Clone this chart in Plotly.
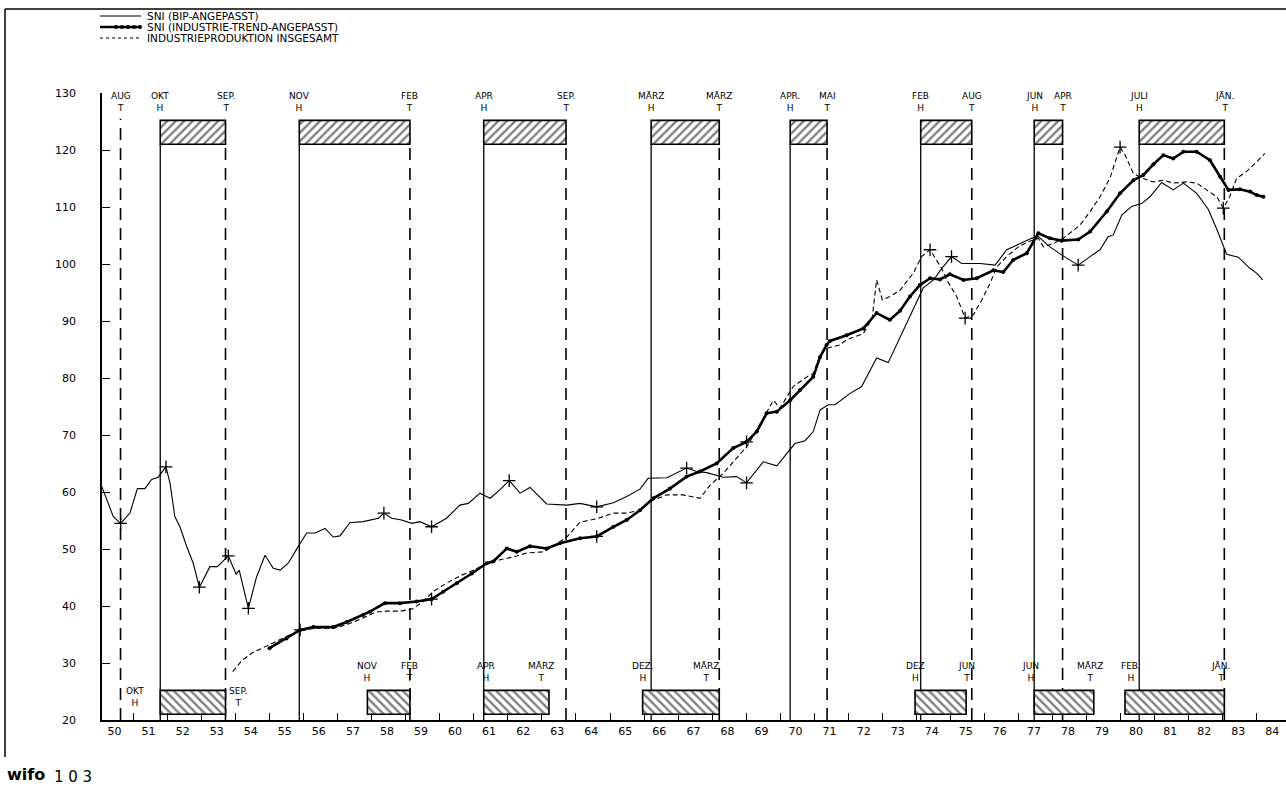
import plotly.graph_objects as go

# ---------------------------------------------------------------- series data
# SNI (BIP-angepasst): thin solid line
bip_x = [1950.08, 1950.22, 1950.41, 1950.63, 1950.9, 1951.12, 1951.34, 1951.54, 1951.73, 1951.96,
         1952.08, 1952.22, 1952.37, 1952.57, 1952.76, 1952.94, 1953.25, 1953.47, 1953.79, 1954.02,
         1954.11, 1954.38, 1954.62, 1954.87, 1955.11, 1955.31, 1955.55, 1955.78, 1956.09, 1956.34,
         1956.63, 1956.87, 1957.07, 1957.36, 1957.75, 1958.2, 1958.36, 1958.59, 1958.88, 1959.18,
         1959.42, 1959.76, 1960.2, 1960.59, 1960.84, 1961.18, 1961.48, 1961.77, 1962.04, 1962.36,
         1962.65, 1963.14, 1963.73, 1964.12, 1964.61, 1965.1, 1965.49, 1965.88, 1966.12, 1966.67,
         1967.25, 1967.55, 1967.84, 1968.33, 1968.72, 1969.01, 1969.5, 1969.9, 1970.43, 1970.73,
         1970.97, 1971.17, 1971.41, 1971.61, 1972.05, 1972.39, 1972.83, 1973.17, 1973.52, 1973.91,
         1974.2, 1974.5, 1974.74, 1975.03, 1975.33, 1975.87, 1976.31, 1976.65, 1977.04, 1977.38,
         1977.58, 1977.92, 1978.26, 1978.75, 1979.1, 1979.39, 1979.63, 1979.78, 1980.03, 1980.32,
         1980.61, 1980.86, 1981.2, 1981.54, 1981.84, 1982.23, 1982.57, 1982.82, 1983.11, 1983.45,
         1983.8, 1983.99, 1984.17]
bip_y = [60.9, 58.6, 55.7, 54.5, 56.3, 60.6, 60.6, 62.2, 62.6, 64.4,
         61.5, 55.7, 53.9, 50.4, 47.5, 43.3, 46.9, 46.9, 48.8, 45.6,
         46.3, 39.6, 45.1, 48.9, 46.6, 46.3, 47.5, 49.8, 52.8, 52.8,
         53.6, 52.1, 52.3, 54.6, 54.8, 55.4, 56.3, 55.4, 55.1, 54.5,
         54.8, 53.9, 55.4, 57.7, 58.0, 59.8, 58.9, 60.4, 62.0, 59.8,
         60.8, 57.9, 57.7, 58.0, 57.4, 58.1, 59.2, 60.5, 62.4, 62.5,
         64.2, 63.6, 63.4, 62.6, 62.7, 61.6, 65.3, 64.6, 68.5, 69.0,
         70.6, 74.4, 75.3, 75.3, 77.3, 78.5, 83.5, 82.7, 87.2, 92.3,
         95.8, 97.2, 99.2, 101.3, 100.1, 100.1, 99.8, 102.5, 103.6, 104.5,
         104.8, 103.0, 101.6, 99.8, 101.3, 102.5, 104.8, 105.1, 108.6, 110.1,
         110.6, 111.8, 114.3, 113.0, 114.2, 112.4, 109.6, 106.1, 101.7, 101.2,
         99.2, 98.4, 97.2]
bip_turns = [1950.63, 1951.96, 1952.94, 1953.79, 1954.38, 1958.36, 1959.76, 1962.04,
             1964.61, 1967.25, 1969.01, 1975.03, 1978.75]

# SNI (Industrie-Trend-angepasst): heavy dotted line
trend_x = [1955.0, 1955.5, 1955.9, 1956.29, 1956.87, 1957.27, 1957.75, 1957.95, 1958.39, 1958.83,
           1959.32, 1959.76, 1960.1, 1960.5, 1960.94, 1961.38, 1961.57, 1961.97, 1962.26, 1962.65,
           1963.14, 1963.53, 1964.12, 1964.61, 1965.1, 1965.49, 1965.88, 1966.27, 1966.76, 1967.25,
           1967.64, 1968.13, 1968.62, 1969.01, 1969.31, 1969.6, 1969.9, 1970.29, 1970.58, 1970.97,
           1971.17, 1971.36, 1971.46, 1971.95, 1972.44, 1972.83, 1973.22, 1973.52, 1973.81, 1974.1,
           1974.4, 1974.69, 1974.98, 1975.38, 1975.77, 1976.26, 1976.55, 1976.84, 1977.24, 1977.58,
           1977.92, 1978.26, 1978.75, 1979.1, 1979.59, 1979.98, 1980.37, 1980.66, 1980.96, 1981.25,
           1981.54, 1981.84, 1982.23, 1982.62, 1982.92, 1983.16, 1983.5, 1983.8, 1983.99, 1984.19]
trend_y = [32.6, 34.3, 35.8, 36.3, 36.3, 37.2, 38.4, 39.0, 40.5, 40.5,
           40.8, 41.2, 42.5, 44.0, 45.7, 47.5, 47.8, 50.1, 49.5, 50.5,
           50.1, 51.0, 51.9, 52.2, 53.9, 55.1, 56.8, 58.9, 60.6, 62.7,
           63.6, 65.0, 67.7, 68.8, 70.6, 73.8, 74.1, 76.1, 77.9, 80.2,
           83.7, 85.8, 86.5, 87.5, 88.7, 91.4, 90.2, 91.8, 94.3, 96.3,
           97.5, 97.3, 98.2, 97.2, 97.5, 98.9, 98.6, 100.7, 101.9, 105.4,
           104.5, 104.1, 104.3, 105.7, 109.2, 112.4, 114.7, 115.6, 117.5, 119.1,
           118.5, 119.7, 119.7, 118.2, 115.3, 113.0, 113.1, 112.7, 112.1, 111.8]
trend_turns = [1955.9, 1959.76, 1964.61, 1969.01]

# Industrieproduktion insgesamt: short-dashed line
ind_x = [1953.92, 1954.2, 1954.5, 1954.8, 1955.1, 1955.5, 1955.9, 1956.3, 1956.9, 1957.3,
         1957.75, 1958.1, 1958.4, 1958.85, 1959.2, 1959.5, 1959.8, 1960.2, 1960.6, 1961.0,
         1961.38, 1961.77, 1962.16, 1962.55, 1963.04, 1963.4, 1963.73, 1964.12, 1964.61, 1965.1,
         1965.49, 1965.88, 1966.27, 1966.67, 1967.15, 1967.64, 1967.94, 1968.33, 1968.72, 1969.01,
         1969.31, 1969.8, 1969.99, 1970.38, 1970.78, 1970.97, 1971.17, 1971.36, 1971.75, 1971.95,
         1972.44, 1972.7, 1972.83, 1973.0, 1973.22, 1973.52, 1973.71, 1973.91, 1974.15, 1974.4,
         1974.74, 1974.89, 1975.18, 1975.43, 1975.67, 1975.92, 1976.16, 1976.36, 1976.65, 1976.99,
         1977.28, 1977.58, 1977.73, 1978.02, 1978.31, 1978.8, 1979.1, 1979.39, 1979.68, 1979.83,
         1979.98, 1980.13, 1980.37, 1980.66, 1980.96, 1981.25, 1981.54, 1981.93, 1982.23, 1982.52,
         1982.82, 1983.01, 1983.2, 1983.4, 1983.69, 1983.99, 1984.23]
ind_y = [28.5, 30.5, 31.8, 32.6, 33.5, 34.7, 35.6, 36.1, 36.1, 36.8,
         37.9, 38.9, 39.1, 39.1, 39.5, 40.7, 42.5, 44.0, 45.3, 46.3,
         47.5, 48.1, 48.6, 49.3, 49.5, 50.7, 52.1, 54.7, 55.3, 56.3,
         56.3, 56.8, 58.6, 59.5, 59.5, 58.9, 61.2, 63.3, 65.9, 67.9,
         70.9, 76.1, 74.7, 78.5, 80.2, 80.8, 84.0, 85.2, 85.8, 86.7,
         87.8, 90.5, 97.2, 93.7, 94.3, 95.4, 96.9, 98.4, 101.3, 102.5,
         99.2, 97.2, 94.3, 90.5, 91.1, 93.7, 96.6, 99.5, 101.3, 103.0,
         103.9, 104.5, 103.0, 103.6, 104.5, 106.8, 109.2, 111.8, 115.0, 117.9,
         120.5, 119.1, 115.9, 115.0, 114.4, 114.7, 114.2, 114.4, 114.2, 113.0,
         111.8, 109.8, 111.8, 115.0, 116.2, 117.9, 119.4]
ind_turns = [1974.4, 1975.43, 1979.98, 1983.01]

# ------------------------------------------------------- cycle turning points
# upper band: SNI reference cycle (H = Hochpunkt, T = Tiefpunkt)
top_year = [1950, 1951, 1953, 1955, 1959, 1961, 1963, 1966, 1968, 1970, 1971, 1974, 1975, 1977, 1978, 1980, 1983]
top_month = [8, 10, 9, 11, 2, 4, 9, 3, 3, 4, 5, 2, 8, 6, 4, 7, 1]
top_name = ["AUG", "OKT", "SEP.", "NOV", "FEB", "APR", "SEP.", "MÄRZ", "MÄRZ", "APR.", "MAI",
            "FEB", "AUG", "JUN", "APR", "JULI", "JÄN."]
top_kind = ["T", "H", "T", "H", "T", "H", "T", "H", "T", "H", "T", "H", "T", "H", "T", "H", "T"]

# lower band: industrial production cycle
bot_year = [1951, 1953, 1957, 1959, 1961, 1963, 1965, 1968, 1973, 1975, 1977, 1979, 1980, 1983]
bot_month = [10, 9, 11, 2, 4, 3, 12, 3, 12, 6, 6, 3, 2, 1]
bot_name = ["OKT", "SEP.", "NOV", "FEB", "APR", "MÄRZ", "DEZ.", "MÄRZ", "DEZ", "JUN", "JUN",
            "MÄRZ", "FEB.", "JÄN."]
bot_kind = ["H", "T", "H", "T", "H", "T", "H", "T", "H", "T", "H", "T", "H", "T"]
bot_label_shift = [-25, 12, 0, 0, 2, -8, 0, -13, 0, 0, -4, -4, 6, -4]

year_ticks = list(range(1951, 1985))
year_labels = [f"{y % 100:02d}" for y in range(1950, 1985)]
value_ticks = [20, 30, 40, 50, 60, 70, 80, 90, 100, 110, 120, 130]

legend_names = ["SNI (BIP-ANGEPASST)", "SNI (INDUSTRIE-TREND-ANGEPASST)", "INDUSTRIEPRODUKTION INSGESAMT"]

# ------------------------------------------------------------------- layout
W, H = 1286, 800
ML, MR, MT, MB = 102, 0, 93, 80
PW, PH = W - ML - MR, H - MT - MB
X0, X1 = 1950.081, 1984.853
Y0, Y1 = 20, 130
FONT = "DejaVu Sans"
INK = "black"


def px2x(px):
    return (px - ML) / PW


def px2y(py):
    return (H - MB - py) / PH


def month_pos(year, month):
    return year + (month - 0.5) / 12


def pick(xs, ys, wanted):
    lookup = dict(zip(xs, ys))
    return wanted, [lookup[w] for w in wanted]


fig = go.Figure()

# hatched phase boxes (bars with a base)
TOP_BASE, BOT_BASE, BOX_H = 121.0, 21.0, 4.2
top_pos = [month_pos(y, m) for y, m in zip(top_year, top_month)]
bot_pos = [month_pos(y, m) for y, m in zip(bot_year, bot_month)]
top_pairs = [(top_pos[i], top_pos[i + 1]) for i in range(1, len(top_pos) - 1, 2)]
bot_pairs = [(bot_pos[i], bot_pos[i + 1]) for i in range(0, len(bot_pos) - 1, 2)]

for pairs, base, hatch in [(top_pairs, TOP_BASE, "/"), (bot_pairs, BOT_BASE, "\\")]:
    fig.add_trace(go.Bar(
        x=[(a + b) / 2 for a, b in pairs],
        width=[b - a for a, b in pairs],
        y=[BOX_H] * len(pairs),
        base=[base] * len(pairs),
        marker=dict(color="white", line=dict(color=INK, width=1.6),
                    pattern=dict(shape=hatch, fgcolor=INK, bgcolor="white", size=6, solidity=0.4)),
        showlegend=False, hoverinfo="skip",
    ))

# series
fig.add_trace(go.Scatter(x=bip_x, y=bip_y, mode="lines",
                         line=dict(color=INK, width=1.1), name=legend_names[0], showlegend=False))
fig.add_trace(go.Scatter(x=trend_x, y=trend_y, mode="lines+markers",
                         line=dict(color=INK, width=2.6), marker=dict(size=4, color=INK),
                         name=legend_names[1], showlegend=False))
fig.add_trace(go.Scatter(x=ind_x, y=ind_y, mode="lines",
                         line=dict(color=INK, width=1.1, dash="5px,3px"),
                         name=legend_names[2], showlegend=False))

# turning-point crosses
for xs, ys, turns in [(bip_x, bip_y, bip_turns), (trend_x, trend_y, trend_turns), (ind_x, ind_y, ind_turns)]:
    tx, ty = pick(xs, ys, turns)
    fig.add_trace(go.Scatter(x=tx, y=ty, mode="markers",
                             marker=dict(symbol="cross-thin", size=9, line=dict(color=INK, width=1.3)),
                             showlegend=False, hoverinfo="skip"))

shapes = []
annotations = []
label_font = dict(family=FONT, size=9, color=INK)

# vertical turning-point lines of the reference cycle
for i, (xp, kind) in enumerate(zip(top_pos, top_kind)):
    top = TOP_BASE if i > 0 else 125.5
    shapes.append(dict(type="line", xref="x", yref="y", x0=xp, x1=xp, y0=Y0, y1=top,
                       line=dict(color=INK, width=1.3 if kind == "H" else 1.6,
                                 dash="solid" if kind == "H" else "12px,8px"), layer="below"))
    annotations.append(dict(x=xp, y=128.5, xref="x", yref="y", text=f"{top_name[i]}<br>{kind}",
                            showarrow=False, font=label_font, xanchor="center", yanchor="middle"))

# labels of the industrial cycle
for i, (xp, kind) in enumerate(zip(bot_pos, bot_kind)):
    yl = 24.1 if i < 2 else 28.5
    annotations.append(dict(x=xp, y=yl, xref="x", yref="y", text=f"{bot_name[i]}<br>{kind}",
                            xshift=bot_label_shift[i], showarrow=False, font=label_font,
                            xanchor="center", yanchor="middle"))

# legend drawn in the top margin
leg_rows = [16, 27, 38]
leg_styles = [dict(width=1.1, dash="solid"), dict(width=2.6, dash="solid"), dict(width=1.1, dash="3px,3px")]
for k, (row, name) in enumerate(zip(leg_rows, legend_names)):
    shapes.append(dict(type="line", xref="paper", yref="paper", x0=px2x(100), x1=px2x(141),
                       y0=px2y(row), y1=px2y(row), line=dict(color=INK, **leg_styles[k])))
    if k == 1:
        for dx in range(116, 142, 6):
            shapes.append(dict(type="circle", xref="paper", yref="paper",
                               x0=px2x(dx - 2), x1=px2x(dx + 2), y0=px2y(row - 2), y1=px2y(row + 2),
                               fillcolor=INK, line=dict(color=INK, width=0)))
    annotations.append(dict(x=px2x(145), y=px2y(row), xref="paper", yref="paper", text=name,
                            showarrow=False, xanchor="left", yanchor="middle",
                            font=dict(family=FONT, size=10.5, color=INK)))

# page frame
shapes.append(dict(type="line", xref="paper", yref="paper", x0=px2x(5), x1=px2x(1286),
                   y0=px2y(9), y1=px2y(9), line=dict(color=INK, width=1.3)))
shapes.append(dict(type="line", xref="paper", yref="paper", x0=px2x(5), x1=px2x(5),
                   y0=px2y(9), y1=px2y(757), line=dict(color=INK, width=1.5)))

# publisher mark and page number
annotations.append(dict(x=px2x(5), y=px2y(774), xref="paper", yref="paper", text="<b>wifo</b>",
                        showarrow=False, xanchor="left", yanchor="middle",
                        font=dict(family=FONT, size=16, color=INK)))
annotations.append(dict(x=px2x(52), y=px2y(777), xref="paper", yref="paper", text="1 0 3",
                        showarrow=False, xanchor="left", yanchor="middle",
                        font=dict(family=FONT, size=15, color=INK)))

fig.update_layout(
    width=W, height=H,
    margin=dict(l=ML, r=MR, t=MT, b=MB),
    paper_bgcolor="white", plot_bgcolor="white",
    barmode="overlay", showlegend=False,
    shapes=shapes, annotations=annotations,
    font=dict(family=FONT, color=INK),
    xaxis=dict(range=[X0, X1], showgrid=False, zeroline=False,
               showline=True, linecolor=INK, linewidth=1.8,
               tickmode="array", tickvals=[y + 0.45 for y in range(1950, 1985)], ticktext=year_labels,
               ticks="", tickfont=dict(family=FONT, size=11, color=INK),
               minor=dict(tickmode="array", tickvals=year_ticks, ticks="inside", ticklen=7,
                          tickwidth=1.3, tickcolor=INK, showgrid=False)),
    yaxis=dict(range=[Y0, Y1], showgrid=False, zeroline=False,
               showline=True, linecolor=INK, linewidth=1.8,
               tickmode="array", tickvals=value_ticks, ticks="inside", ticklen=8,
               tickwidth=1.3, tickcolor=INK, ticklabelstandoff=22,
               tickfont=dict(family=FONT, size=11, color=INK)),
)

fig.write_html("out.html")
